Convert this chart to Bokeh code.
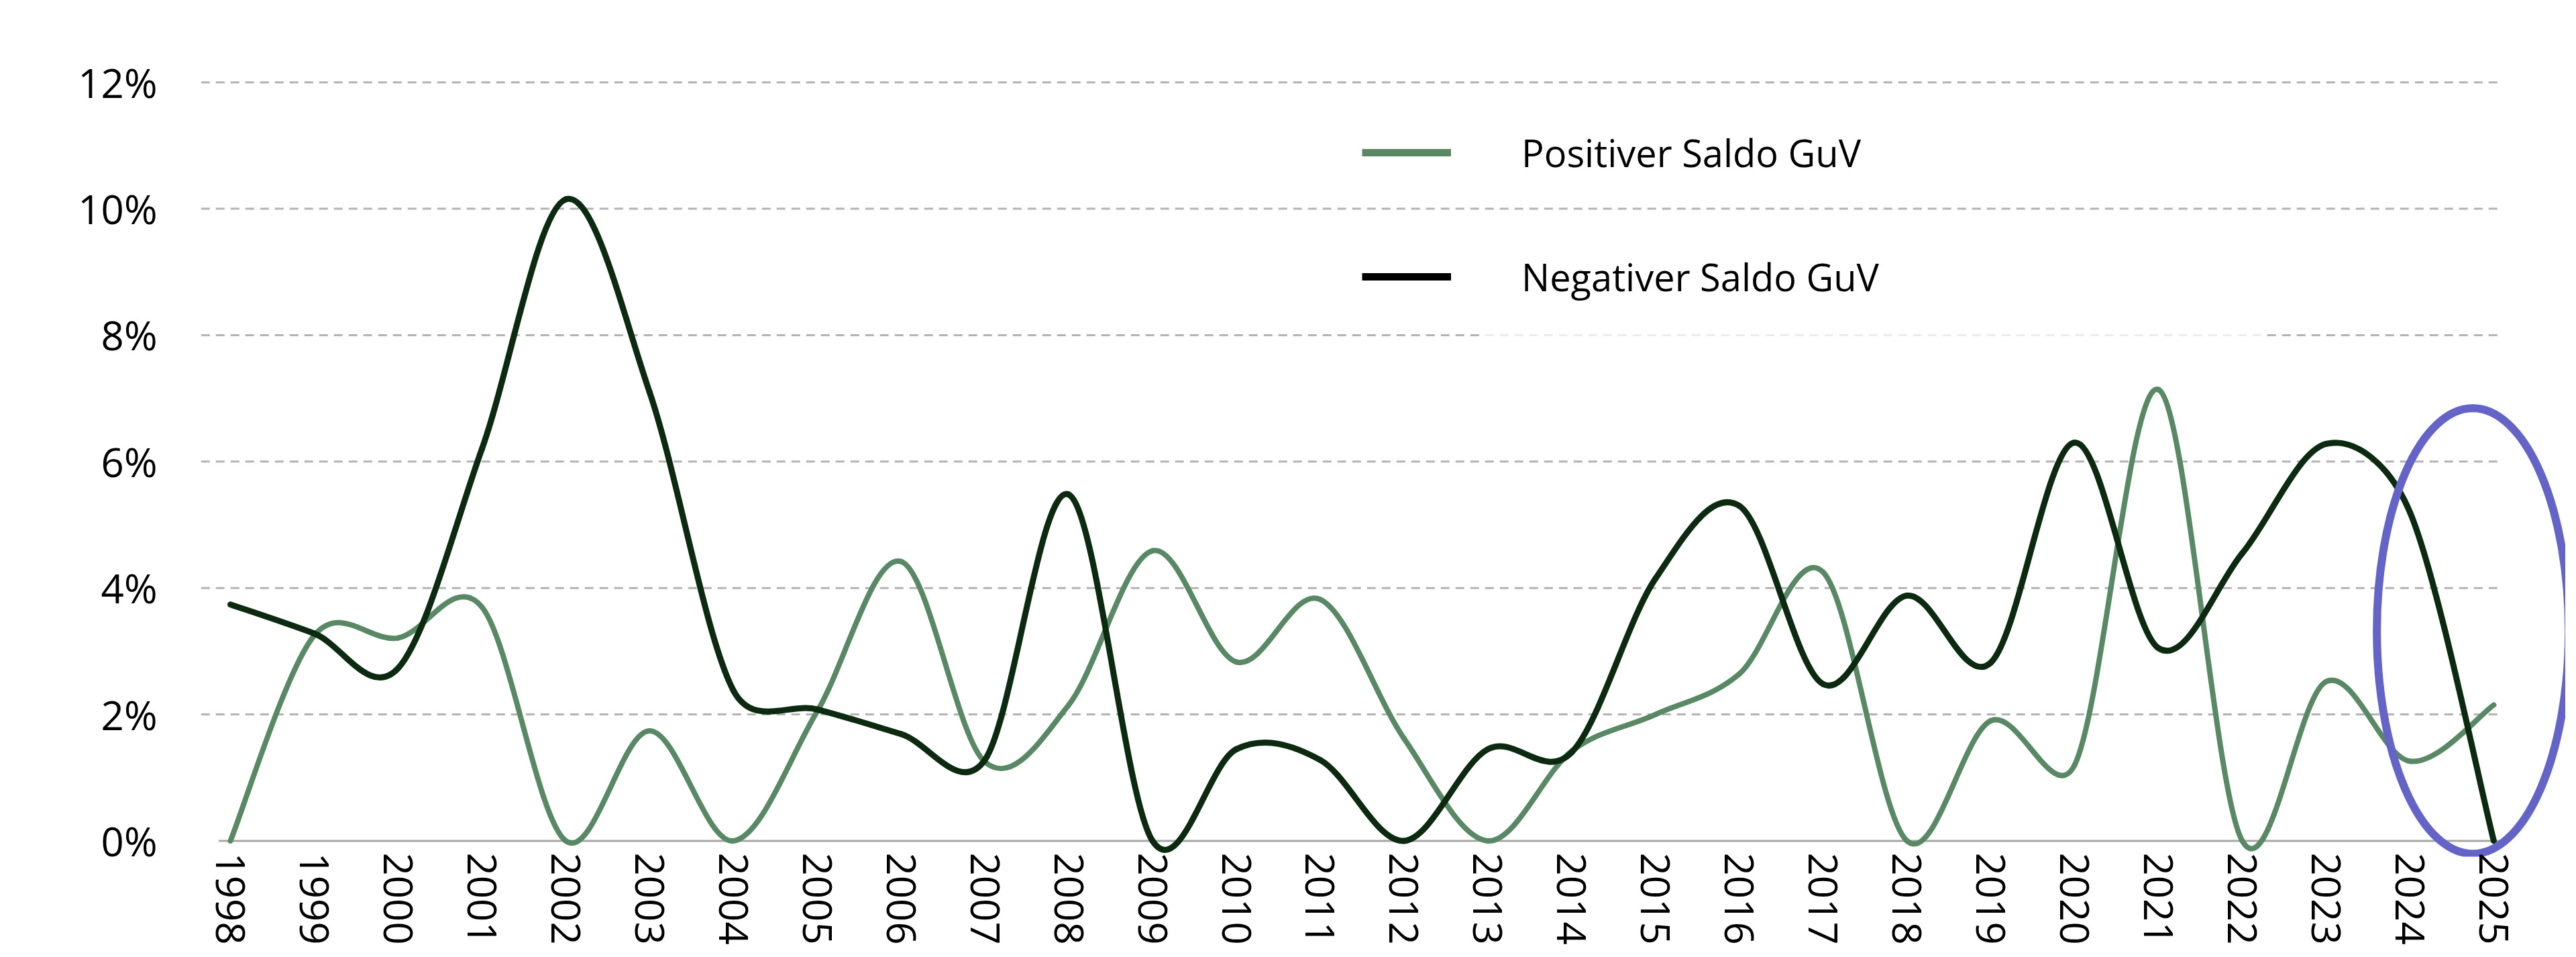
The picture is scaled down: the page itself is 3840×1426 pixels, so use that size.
import math
from bokeh.plotting import figure
from bokeh.models import (FixedTicker, Legend, LegendItem, Range1d, BoxAnnotation)
from bokeh.embed import file_html
from bokeh.resources import INLINE

# ---------------- data ----------------
YEARS = list(range(1998, 2026))
X_LABELS = [str(y) for y in YEARS]

POSITIVE = [0.0, 3.25, 3.21, 3.7, 0.0, 1.74, 0.0, 2.05, 4.42, 1.25,
            2.15, 4.59, 2.83, 3.82, 1.62, 0.0, 1.42, 2.0, 2.64, 4.25,
            0.0, 1.9, 1.2, 7.14, 0.0, 2.52, 1.26, 2.15]

NEGATIVE = [3.74, 3.28, 2.73, 6.2, 10.15, 7.1, 2.38, 2.08, 1.69, 1.28,
            5.48, 0.0, 1.45, 1.28, 0.0, 1.45, 1.4, 4.15, 5.3, 2.48,
            3.88, 2.82, 6.3, 3.05, 4.55, 6.28, 5.2, 0.0]

SERIES_NAMES = ["Positiver Saldo GuV", "Negativer Saldo GuV"]

Y_TICKS = [0, 2, 4, 6, 8, 10, 12]
Y_TICK_LABELS = ["0%", "2%", "4%", "6%", "8%", "10%", "12%"]

# ---------------- style / geometry ----------------
GREEN = "#598865"
DARK = "#0c2a10"
LEGEND_DARK = "#000000"
GRID_COLOR = "#b3b3b3"
AXIS_COLOR = "#a6a6a6"
ELLIPSE_COLOR = "#6464C8"
FONT = "Open Sans"

WIDTH, HEIGHT = 3824, 1410
BORDER_L, BORDER_R, BORDER_T, BORDER_B = 299, 0, 94, 130
X_START, X_END = 1997.648, 2025.857
Y_START, Y_END = -0.25, 12.3
GRID_X0, GRID_X1 = 1997.65, 2025.11
AXIS_X0 = 1997.86

SX = (WIDTH - BORDER_L - BORDER_R) / (X_END - X_START)   # px per year
SY = (HEIGHT - BORDER_T - BORDER_B) / (Y_END - Y_START)  # px per percent


def smooth_segments(xs, ys):
    """Bezier segments through the points, spreadsheet-style smoothing
    (tangent handles of 1/6, capped at half the segment length, in screen space)."""
    pts = [(x * SX, y * SY) for x, y in zip(xs, ys)]
    n = len(pts)
    dist = lambda a, b: math.hypot(a[0] - b[0], a[1] - b[1])
    seg = dict(x0=[], y0=[], x1=[], y1=[], cx0=[], cy0=[], cx1=[], cy1=[])
    for i in range(n - 1):
        p0 = pts[max(i - 1, 0)]
        p1 = pts[i]
        p2 = pts[i + 1]
        p3 = pts[min(i + 2, n - 1)]
        d12 = dist(p1, p2)
        d02 = dist(p0, p2)
        d13 = dist(p1, p3)
        f1 = 1 / 6 if d02 / 6 < d12 / 2 else (d12 / (2 * d02) if d02 > 0 else 0)
        f2 = 1 / 6 if d13 / 6 < d12 / 2 else (d12 / (2 * d13) if d13 > 0 else 0)
        c1 = (p1[0] + (p2[0] - p0[0]) * f1, p1[1] + (p2[1] - p0[1]) * f1)
        c2 = (p2[0] - (p3[0] - p1[0]) * f2, p2[1] - (p3[1] - p1[1]) * f2)
        seg["x0"].append(p1[0] / SX)
        seg["y0"].append(p1[1] / SY)
        seg["x1"].append(p2[0] / SX)
        seg["y1"].append(p2[1] / SY)
        seg["cx0"].append(c1[0] / SX)
        seg["cy0"].append(c1[1] / SY)
        seg["cx1"].append(c2[0] / SX)
        seg["cy1"].append(c2[1] / SY)
    return seg


p = figure(width=WIDTH, height=HEIGHT,
           x_range=Range1d(X_START, X_END), y_range=Range1d(Y_START, Y_END),
           output_backend="svg", toolbar_location=None,
           min_border_left=BORDER_L, min_border_right=BORDER_R,
           min_border_top=BORDER_T, min_border_bottom=BORDER_B)
p.outline_line_color = None
p.background_fill_color = "white"
p.border_fill_color = "white"
p.xgrid.visible = False
p.ygrid.visible = False

# dashed horizontal gridlines
grid_vals = Y_TICKS[1:]
p.segment(x0=[GRID_X0] * len(grid_vals), y0=grid_vals,
          x1=[GRID_X1] * len(grid_vals), y1=grid_vals,
          line_color=GRID_COLOR, line_width=3, line_dash="13 9")
# zero line
p.segment(x0=[AXIS_X0], y0=[0], x1=[GRID_X1], y1=[0],
          line_color=AXIS_COLOR, line_width=3)

# faded part of the 8% gridline (behind legend text box)
p.add_layout(BoxAnnotation(left=2012.92, right=2022.25, bottom=7.85, top=8.15,
                           fill_color="white", fill_alpha=0.75, line_color=None))

# smoothed series
pos_seg = smooth_segments(YEARS, POSITIVE)
neg_seg = smooth_segments(YEARS, NEGATIVE)
p.bezier(line_color=GREEN, line_width=8, line_cap="round", **pos_seg)
p.bezier(line_color=DARK, line_width=9, line_cap="round", **neg_seg)

# highlight ellipse
p.ellipse(x=[2024.75], y=[3.32], width=286, height=664,
          width_units="screen", height_units="screen",
          fill_color=None, line_color=ELLIPSE_COLOR, line_width=12)

# legend (proxy renderers with no visible data)
nan = float("nan")
r_pos = p.line(x=[nan], y=[nan], line_color=GREEN, line_width=11)
r_neg = p.line(x=[nan], y=[nan], line_color=LEGEND_DARK, line_width=11)
legend = Legend(items=[LegendItem(label=SERIES_NAMES[0], renderers=[r_pos]),
                       LegendItem(label=SERIES_NAMES[1], renderers=[r_neg])],
                location=(1731, 824), orientation="vertical",
                glyph_width=133, glyph_height=80, label_height=80,
                label_standoff=105, spacing=105, padding=0, margin=0,
                border_line_color=None, background_fill_alpha=0,
                label_text_font=FONT, label_text_font_size="56px",
                label_text_color="black")
p.add_layout(legend)

# axes
p.xaxis.ticker = FixedTicker(ticks=YEARS)
p.xaxis.major_label_overrides = {y: lbl for y, lbl in zip(YEARS, X_LABELS)}
p.xaxis.major_label_orientation = -math.pi / 2
p.xaxis.axis_line_color = None
p.xaxis.major_tick_line_color = None
p.xaxis.minor_tick_line_color = None
p.xaxis.major_label_standoff = -12
p.xaxis.major_label_text_font = FONT
p.xaxis.major_label_text_font_size = "60px"
p.xaxis.major_label_text_color = "black"

p.yaxis.ticker = FixedTicker(ticks=Y_TICKS)
p.yaxis.major_label_overrides = {t: lbl for t, lbl in zip(Y_TICKS, Y_TICK_LABELS)}
p.yaxis.axis_line_color = None
p.yaxis.major_tick_line_color = None
p.yaxis.minor_tick_line_color = None
p.yaxis.major_label_standoff = 59
p.yaxis.major_label_text_font = FONT
p.yaxis.major_label_text_font_size = "60px"
p.yaxis.major_label_text_color = "black"

open("out.html", "w").write(file_html(p, INLINE))
